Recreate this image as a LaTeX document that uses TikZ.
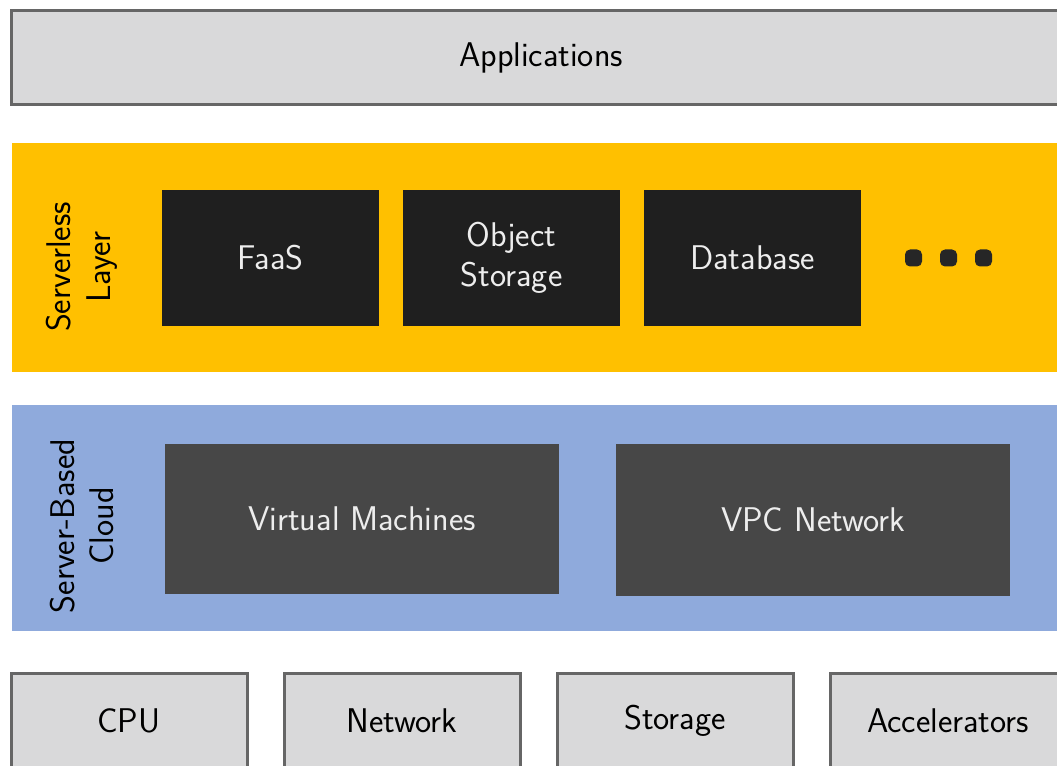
\documentclass[tikz,border=0pt]{standalone}
\usetikzlibrary{positioning}
\definecolor{sl-yellow}{HTML}{FFC000}
\definecolor{sb-blue}{HTML}{8FAADC}
\definecolor{hw-gray}{HTML}{D9D9DA}
\definecolor{hw-edge}{HTML}{666666}
\definecolor{svc-dark}{HTML}{1F1F1F}
\definecolor{vm-dark}{HTML}{474747}
\newcommand{\pxu}{0.02cm}
\tikzset{
  band/.style={
    rectangle,
    fill=#1,
    anchor=north west,
    inner sep=0pt,
    outer sep=0pt},
  hwbox/.style={
    band=hw-gray,
    draw=hw-edge,
    line width=3*\pxu},
  svc/.style={
    band=#1,
    text={black!7},
    align=center},
  dotbox/.style={
    rectangle,
    fill=black!85,
    rounded corners=5*\pxu,
    minimum size=17*\pxu,
    inner sep=0pt},
}

\begin{document}
\begin{tikzpicture}[
  x=0.02cm, y=-0.02cm,
  font=\sffamily\fontsize{19.5}{22.5}\selectfont]
  \useasboundingbox (0,0) rectangle (1057,766);
  \clip (0,0) rectangle (1057,766);

  % applications on top
  \node[hwbox, minimum width=1060*\pxu, minimum height=94*\pxu] (apps) at (11,11) {Applications};

  % serverless layer
  \node[band=sl-yellow, minimum width=1060*\pxu, minimum height=229*\pxu] (serverless) at (12,143) {};
  \node[rotate=90, align=center] (serverless-lbl) at (82,267) {Serverless\\Layer};
  \foreach \x/\name/\txt in {162/faas/FaaS, 403/objstore/{Object\\Storage}, 644/db/Database} {
    \node[svc=svc-dark, minimum width=217*\pxu, minimum height=136*\pxu] (\name) at (\x,190) {\txt};
  }
  \foreach \x [count=\i] in {913.5, 948.5, 983.5}
    \node[dotbox] (dot\i) at (\x,258) {};

  % server-based cloud
  \node[band=sb-blue, minimum width=1060*\pxu, minimum height=226*\pxu] (serverbased) at (12,405) {};
  \node[rotate=90, align=center] (serverbased-lbl) at (82,526) {Server-Based\\Cloud};
  \node[svc=vm-dark, minimum width=394*\pxu, minimum height=150*\pxu] (vm) at (165,444) {Virtual Machines};
  \node[svc=vm-dark, minimum width=394*\pxu, minimum height=152*\pxu] (vpc) at (616,444) {VPC Network};

  % hardware
  \foreach \x/\name/\txt in {11/cpu/CPU, 284/net/Network, 557/stor/Storage, 830/accel/Accelerators} {
    \node[hwbox, minimum width=236*\pxu, minimum height=95*\pxu] (\name) at (\x,673) {\txt};
  }
\end{tikzpicture}
\end{document}
